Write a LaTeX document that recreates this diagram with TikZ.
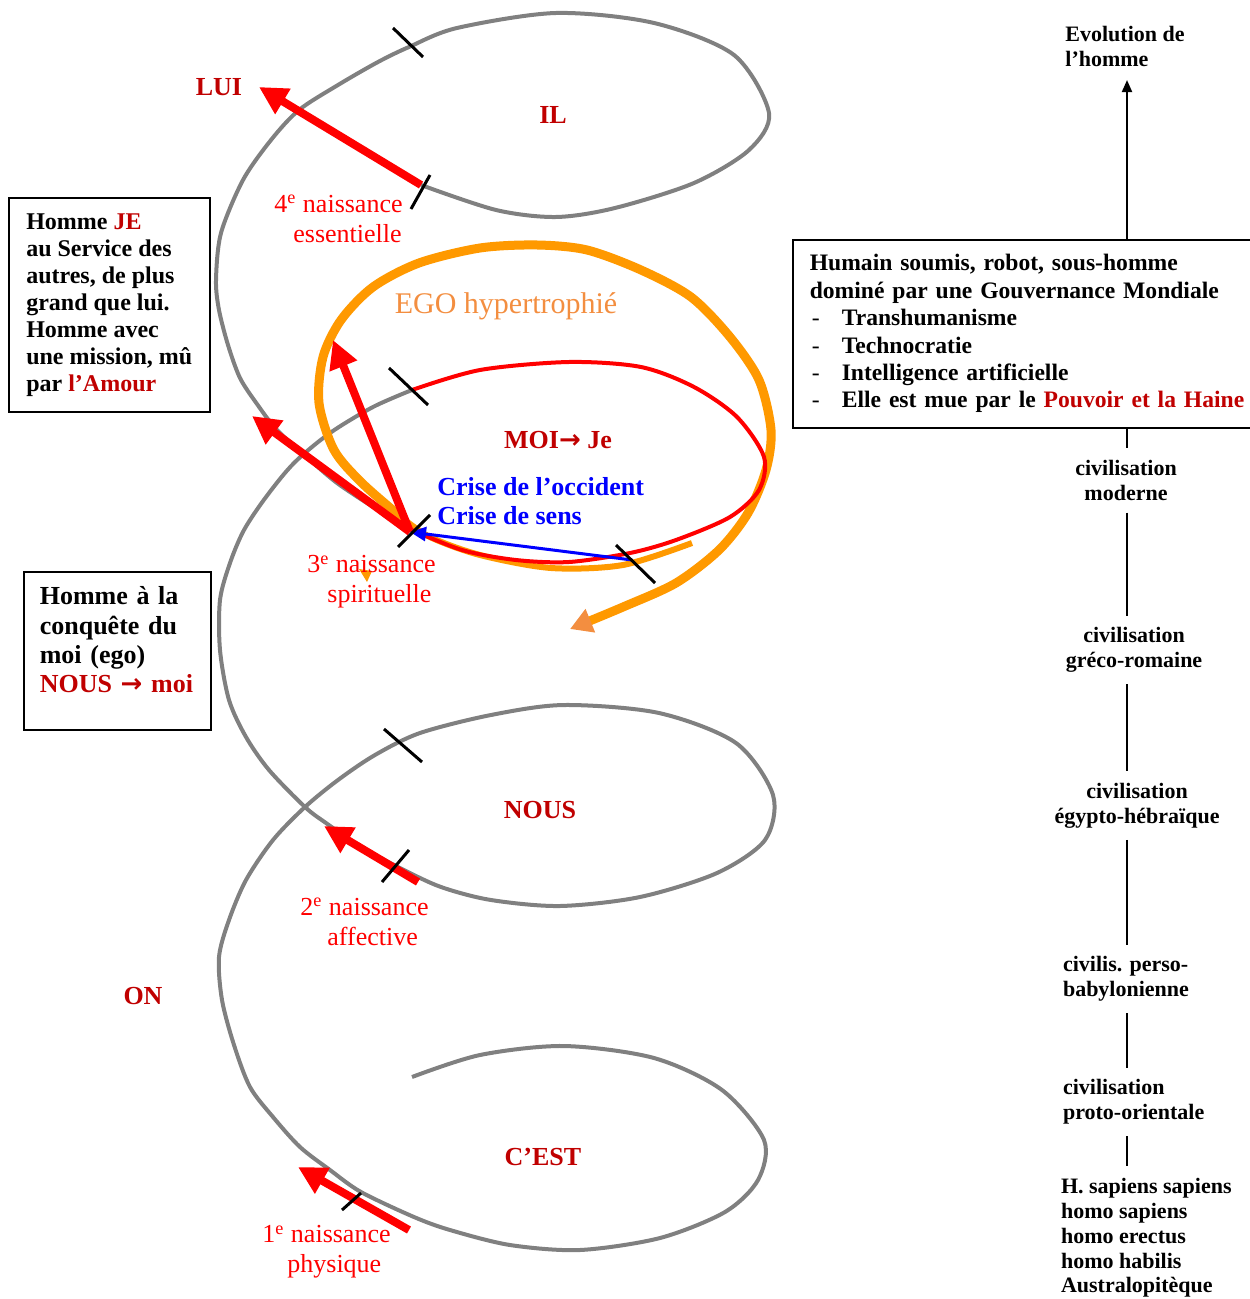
\documentclass[tikz,border=0pt]{standalone}
\usepackage{fontspec}
\setmainfont{Liberation Serif}
\newfontfamily\arrowfont{DejaVu Sans}
\usepackage{tikz}
\usetikzlibrary{arrows.meta}
\definecolor{SpiralGray}{RGB}{128,128,128}
\definecolor{DarkRed}{RGB}{192,0,0}
\definecolor{EgoOrange}{RGB}{255,153,0}
\definecolor{EgoText}{RGB}{243,142,64}

\begin{document}
\begin{tikzpicture}[x=0.5pt, y=-0.5pt,
    every node/.style={inner sep=0pt},
    spire/.style={draw=SpiralGray, line width=2pt, line join=round},
    birth/.style={draw=red, line width=4pt, -{Triangle[length=14pt,width=14pt]}},
    notch/.style={draw=black, line width=1.5pt},
    pronoun/.style={text=DarkRed, font=\fontsize{13}{15}\selectfont\bfseries},
    birthlabel/.style={text=red, font=\fontsize{13}{15}\selectfont, align=left, anchor=west},
    infobox/.style={draw, line width=0.8pt, align=left},
    civ/.style={font=\fontsize{11}{12.4}\selectfont\bfseries, outer xsep=0pt, outer ysep=6pt}]
  \useasboundingbox (0,0) rectangle (1249,1299);

  % spirale grise : C'EST, ON, NOUS
  \draw[spire] plot[smooth] coordinates {(412,1077) (480,1055) (564,1046) (654,1058) (722,1090) (764,1140) (758,1180) (725,1212) (660,1238) (580,1250) (510,1245) (450,1230) (414,1217) (361,1192) (330,1170) (300,1147) (273,1117) (250,1087) (234,1045) (222,1000) (219,957) (229,920) (246,880) (273,840) (305,807) (338,780) (375,755) (420,733) (491,715) (564,705) (659,713) (736,743) (773,795) (765,840) (717,873) (640,897) (560,906) (491,900) (441,887) (400,868) (361,847) (326,823) (305,807) (269,770) (246,737) (229,700) (220,650) (220,600) (230,563) (244,530) (266,497) (294,463) (330,433) (373,407) (412,390)};
  % spirale grise : IL
  \draw[spire] plot[smooth] coordinates {(405,527) (370,505) (337,483) (310,460) (277,430) (257,404) (240,378) (228,345) (219,310) (216,280) (221,233) (243,180) (271,140) (299,110) (338,85) (378,62) (409,47) (457,28) (556,13) (654,23) (734,55) (769,113) (749,150) (694,183) (615,208) (556,217) (496,210) (421,185)};

  % EGO
  \draw[draw=EgoOrange, line width=3pt] plot[smooth] coordinates {(692,543) (623,565) (551,568) (480,555) (430,537) (401,517)};
  \draw[draw=EgoOrange, line width=4.5pt, -{Triangle[length=11pt,width=12pt,color=EgoText]}] plot[smooth] coordinates {(401,517) (362,483) (334,450) (319,403) (323,357) (341,320) (373,287) (419,263) (480,248) (537,245) (587,250) (641,270) (691,297) (730,337) (759,380) (771,430) (766,470) (748,513) (719,550) (676,583) (623,607) (570,629)};
  \fill[EgoOrange] (359,569) -- (372,571) -- (367,582) -- cycle;

  % MOI
  \draw[draw=red, line width=2pt] plot[smooth] coordinates {(412,390) (480,370) (569,362) (641,367) (694,387) (737,417) (764,457) (759,490) (730,517) (676,540) (630,553) (569,562) (516,560) (462,550) (405,527)};

  % naissances
  \coordinate (b4) at (421,185);
  \coordinate (lui) at (259,87);
  \coordinate (b3) at (410,532);
  \coordinate (up3) at (333,340);
  \coordinate (left3) at (252,416);
  \coordinate (b2) at (418,882);
  \coordinate (t2) at (324,826);
  \coordinate (b1) at (409,1230);
  \coordinate (t1) at (298,1167);
  \coordinate (crise) at (632,560);
  \draw[birth] (b4) -- (lui);
  \draw[birth] (b3) -- (left3);
  \draw[birth] (b3) -- (up3);
  \draw[birth] (b2) -- (t2);
  \draw[birth] (b1) -- (t1);
  \draw[draw=blue, line width=1.5pt, -{Triangle[length=8pt,width=7pt]}] (crise) -- (b3);

  % coupures
  \draw[notch] (393,28) -- (423,57);
  \draw[notch] (411,209) -- (430,175);
  \draw[notch] (389,368) -- (428,405);
  \draw[notch] (398,547) -- (430,515);
  \draw[notch] (616,545) -- (655,583);
  \draw[notch] (384,729) -- (422,762);
  \draw[notch] (382,882) -- (409,850);
  \draw[notch] (342,1210) -- (361,1193);

  % textes de la spirale
  \node[pronoun] (luit) at (219,87) {LUI};
  \node[pronoun] (il) at (553,115) {IL};
  \node[pronoun] (moi) at (558,440) {MOI{\arrowfont →} Je};
  \node[pronoun] (nous) at (540,810) {NOUS};
  \node[pronoun] (on) at (143,996) {ON};
  \node[pronoun] (cest) at (543,1157) {C’EST};
  \node[text=EgoText, font=\fontsize{15}{17}\selectfont] (ego) at (506,306) {EGO hypertrophié};
  \node[text=blue, font=\fontsize{13}{14.5}\selectfont\bfseries, align=left, anchor=west] (crisetxt) at (437,501) {Crise de l’occident\\Crise de sens};
  \node[birthlabel] (n4) at (274,219) {4\textsuperscript{e} naissance\\\hspace*{9.5pt}essentielle};
  \node[birthlabel] (n3) at (307,582) {3\textsuperscript{e} naissance\\\hspace*{10pt}spirituelle};
  \node[birthlabel] (n2) at (300,922) {2\textsuperscript{e} naissance\\\hspace*{13.5pt}affective};
  \node[birthlabel] (n1) at (262,1252) {1\textsuperscript{e} naissance\\\hspace*{12.5pt}physique};

  % encadres de gauche
  \node[infobox, font=\fontsize{12}{13.5}\selectfont\bfseries, minimum width=100.5pt, minimum height=107pt, anchor=north west] (je) at (8,197) {Homme \textcolor{DarkRed}{JE}\\au Service des\\autres, de plus\\grand que lui.\\Homme avec\\une mission, mû\\par \textcolor{DarkRed}{l’Amour}};
  \node[infobox, font=\fontsize{13}{14.7}\selectfont\bfseries, text width=77.5pt, inner xsep=8pt, minimum height=79pt, anchor=north west] (conq) at (23,571) {Homme à la\\conquête du\\moi (ego)\\\textcolor{DarkRed}{NOUS {\arrowfont →} moi}\\[-3.7pt]\mbox{}};

  % evolution de l'homme
  \coordinate (spine) at (1127,0);
  \node[font=\fontsize{11}{12.4}\selectfont\bfseries, align=left, anchor=west] (evo) at (1065,46.5) {Evolution de\\l’homme};
  \node[infobox, font=\fontsize{11.8}{13.7}\selectfont\bfseries, text width=222pt, inner xsep=8.5pt, minimum height=94pt, anchor=north west, fill=white] (robot) at (792,239) {Humain soumis, robot, sous-homme\\dominé par une Gouvernance Mondiale\\\makebox[16pt][l]{\hspace{1pt}\mdseries-}Transhumanisme\\\makebox[16pt][l]{\hspace{1pt}\mdseries-}Technocratie\\\makebox[16pt][l]{\hspace{1pt}\mdseries-}Intelligence artificielle\\\makebox[16pt][l]{\hspace{1pt}\mdseries-}Elle est mue par le \textcolor{DarkRed}{Pouvoir et la Haine}};
  \node[civ, align=center] (mod) at (1126,480.5) {civilisation\\moderne};
  \node[civ, align=center] (greco) at (1134,650) {civilisation\\gréco-romaine};
  \node[civ, align=center] (egypt) at (1137,805.5) {civilisation\\égypto-hébraïque};
  \node[civ, align=left, anchor=west] (perso) at (1063,979) {civilis. perso-\\babylonienne};
  \node[civ, align=left, anchor=west] (proto) at (1063,1102) {civilisation\\proto-orientale};
  \node[civ, align=left, anchor=west] (homo) at (1061,1238) {H. sapiens sapiens\\homo sapiens\\homo erectus\\homo habilis\\Australopitèque};

  \draw[line width=1pt, -{Triangle[length=6pt,width=5pt]}, shorten >=6.5pt] (robot.north -| spine) -- (evo.south -| spine);
  \draw[line width=1pt] (robot.south -| spine) -- (mod.north -| spine);
  \draw[line width=1pt] (mod.south -| spine) -- (greco.north -| spine);
  \draw[line width=1pt] (greco.south -| spine) -- (egypt.north -| spine);
  \draw[line width=1pt] (egypt.south -| spine) -- (perso.north -| spine);
  \draw[line width=1pt] (perso.south -| spine) -- (proto.north -| spine);
  \draw[line width=1pt] (proto.south -| spine) -- (homo.north -| spine);
\end{tikzpicture}
\end{document}
